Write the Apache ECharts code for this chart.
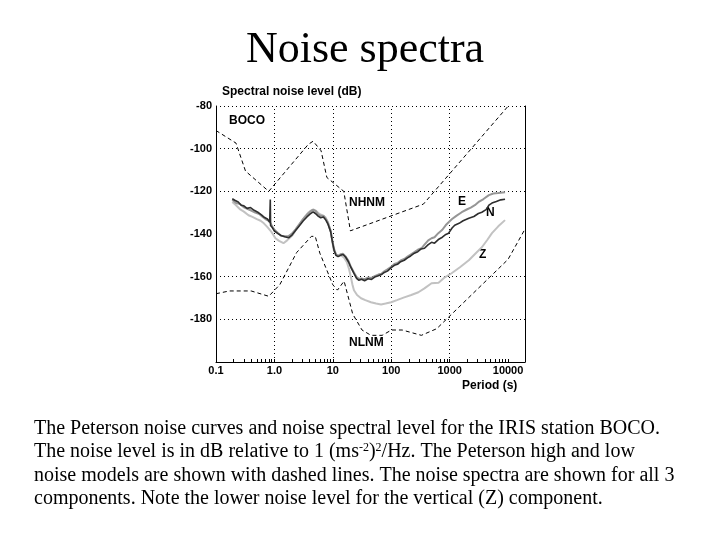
<!DOCTYPE html>
<html><head><meta charset="utf-8">
<script src="https://cdn.jsdelivr.net/npm/echarts@6/dist/echarts.min.js"></script>
<style>html,body{margin:0;padding:0;background:#fff}#c{width:720px;height:540px}</style>
</head><body><div id="c"></div>
<script>
// ---- tick labels ----
const xTickValues = [0.1, 1, 10, 100, 1000, 10000];
const xTickLabels = ['0.1', '1.0', '10', '100', '1000', '10000'];
const xMinorTicks = [0.2,0.3,0.4,0.5,0.6,0.7,0.8,0.9,2,3,4,5,6,7,8,9,20,30,40,50,60,70,80,90,200,300,400,500,600,700,800,900,2000,3000,4000,5000,6000,7000,8000,9000];
const yTickValues = [-80, -100, -120, -140, -160, -180];
const yTickLabels = ['-80', '-100', '-120', '-140', '-160', '-180'];
const xGridValues = [1, 10, 100, 1000];
const yGridValues = [-80, -100, -120, -160, -180];

// ---- Peterson models (dB) ----
const nhnmPeriod = [0.1, 0.22, 0.32, 0.8, 3.8, 4.6, 6.3, 7.9, 15.4, 20, 354.8, 10000];
const nhnmDb = [-91.5, -97.4, -110.5, -120.0, -98.0, -96.5, -101.0, -113.5, -120.0, -138.5, -126.0, -80.1];
const nlnmPeriod = [0.1, 0.17, 0.4, 0.8, 1.24, 2.4, 4.3, 5.0, 6.0, 10, 12, 15.6, 21.9, 31.6, 45, 70, 101, 154, 328, 600, 10000, 19500];
const nlnmDb = [-168.0, -166.7, -166.7, -169.2, -163.7, -148.7, -141.1, -141.1, -149.0, -163.8, -166.3, -162.1, -177.5, -185.0, -187.5, -187.5, -185.0, -185.0, -187.5, -184.4, -151.9, -137.7];

// ---- BOCO spectra ----
const nPeriod = [0.19,0.21,0.24,0.27,0.30,0.34,0.39,0.45,0.52,0.60,0.68,0.76,0.83,0.85,0.86,0.92,1.0,1.15,1.3,1.5,1.75,2.0,2.3,2.7,3.1,3.6,4.1,4.6,5.1,5.6,6.2,6.9,7.6,8.3,9.2,9.8,10.5,11.3,12.3,13.5,15.0,16.5,18.5,20.5,23,25.5,28,31,35,40,46,52,60,68,76,86,100,113,128,145,167,190,215,249,285,325,371,430,490,551,640,750,860,961,1100,1220,1450,1700,2130,2600,3100,3560,4200,4700,5300,6300,7500,8880];
const nDb = [-123.5,-124.2,-125.0,-126.5,-126.8,-128.0,-127.6,-128.9,-129.8,-131.0,-132.3,-133.0,-134.5,-123.8,-136.0,-137.0,-138.6,-139.8,-140.7,-141.3,-141.8,-140.5,-138.4,-136.0,-133.9,-132.0,-130.6,-129.6,-130.5,-131.6,-132.4,-132.0,-133.5,-135.5,-139.0,-143.5,-147.6,-150.0,-150.6,-150.0,-149.6,-150.8,-153.0,-155.8,-158.5,-160.8,-161.7,-161.2,-161.9,-161.0,-161.3,-160.2,-159.6,-159.0,-158.0,-157.4,-155.8,-154.7,-154.2,-153.0,-152.3,-151.2,-150.3,-149.0,-148.3,-147.0,-146.7,-145.0,-143.9,-144.3,-142.6,-141.5,-140.2,-139.6,-137.2,-135.9,-135.0,-133.8,-132.6,-131.8,-130.4,-129.8,-128.6,-126.5,-125.5,-124.8,-124.0,-123.7];
const ePeriod = [0.19,0.22,0.26,0.30,0.35,0.40,0.47,0.55,0.63,0.72,0.82,0.92,1.0,1.15,1.3,1.5,1.75,2.0,2.3,2.7,3.1,3.6,4.1,4.6,5.1,5.6,6.2,6.9,7.6,8.3,9.2,9.8,10.5,11.3,12.3,13.5,15.0,16.5,18.5,20.5,23,25.5,28,31,35,40,46,52,60,68,76,86,100,113,128,145,167,190,215,249,285,329,371,430,490,551,640,750,860,961,1100,1300,1610,2000,2300,2700,3200,3800,4700,5600,6800,8880];
const eDb = [-124.0,-125.5,-126.0,-127.5,-128.3,-129.0,-130.0,-130.6,-132.0,-133.2,-134.0,-136.5,-138.0,-139.5,-140.8,-141.0,-141.0,-139.8,-137.8,-135.2,-133.0,-131.0,-129.5,-128.6,-129.3,-130.8,-131.5,-131.4,-133.0,-135.0,-138.5,-143.0,-147.0,-149.5,-150.2,-149.5,-149.3,-150.5,-152.6,-155.5,-158.0,-160.2,-161.0,-160.8,-161.2,-160.4,-160.6,-159.8,-159.0,-158.6,-157.5,-156.6,-155.4,-154.0,-153.6,-152.4,-151.7,-150.6,-149.6,-148.5,-147.4,-146.7,-145.0,-143.0,-142.0,-141.5,-139.6,-138.0,-135.8,-134.5,-133.0,-131.5,-129.8,-128.4,-127.6,-126.5,-124.8,-123.6,-121.8,-121.0,-120.8,-120.4];
const zPeriod = [0.19,0.22,0.26,0.30,0.36,0.42,0.50,0.58,0.66,0.76,0.86,0.95,1.04,1.2,1.43,1.65,2.04,2.4,2.8,3.3,3.8,4.3,4.7,5.2,5.8,6.5,7.5,8.3,9.2,9.8,10.4,11.5,12.5,13.7,15.5,17.4,19,20.4,21.7,23.0,26,30.4,36,45,55,67,80,100,125,167,220,292,370,490,646,800,1080,1500,2130,2800,3560,4400,5300,6800,8880];
const zDb = [-125.0,-126.5,-128.5,-129.5,-131.2,-132.0,-133.0,-133.8,-135.0,-136.8,-138.5,-140.2,-142.0,-143.2,-144.3,-143.0,-140.6,-137.5,-134.8,-132.0,-130.0,-128.9,-128.6,-129.2,-130.5,-131.2,-132.2,-134.6,-139.0,-143.5,-147.6,-149.8,-150.3,-150.0,-151.0,-153.2,-156.5,-160.3,-163.8,-166.4,-168.6,-170.1,-171.0,-172.0,-172.6,-173.0,-172.6,-172.0,-171.0,-169.7,-168.6,-167.3,-165.5,-163.1,-162.8,-160.6,-158.4,-155.6,-152.3,-149.0,-146.2,-142.8,-139.6,-136.4,-133.5];

const zip = (a, b) => a.map((v, i) => [v, b[i]]);
const sansB = 'Liberation Sans';
const serif = 'Liberation Serif';

const chart = echarts.init(document.getElementById('c'), null, {renderer: 'canvas'});
const gridStyle = {color: '#000', width: 1, type: [1, 3]};

chart.setOption({
  animation: false,
  backgroundColor: '#fff',
  grid: {left: 216, right: 195, top: 106, bottom: 178, containLabel: false},
  xAxis: {
    type: 'log', logBase: 10, min: 0.1, max: 19500,
    axisLine: {show: true, onZero: false, lineStyle: {color: '#000', width: 1}},
    axisTick: {show: true, inside: true, length: 3, customValues: xMinorTicks.concat(xTickValues), lineStyle: {color: '#000'}},
    axisLabel: {
      customValues: xTickValues,
      formatter: v => {
        const i = xTickValues.findIndex(t => Math.abs(Math.log10(t) - Math.log10(v)) < 1e-6);
        return i >= 0 ? xTickLabels[i] : '';
      },
      color: '#000', fontFamily: sansB, fontWeight: 'bold', fontSize: 11, margin: 3
    },
    splitLine: {show: false}
  },
  yAxis: [{
    type: 'value', min: -200, max: -80, interval: 20,
    axisLine: {show: true, onZero: false, lineStyle: {color: '#000', width: 1}},
    axisTick: {show: false},
    axisLabel: {
      formatter: v => { const i = yTickValues.indexOf(v); return i >= 0 ? yTickLabels[i] : ''; },
      color: '#000', fontFamily: sansB, fontWeight: 'bold', fontSize: 11, margin: 4
    },
    splitLine: {show: false}
  }, {
    type: 'value', min: -200, max: -80, interval: 20, position: 'right',
    axisLine: {show: true, onZero: false, lineStyle: {color: '#000', width: 1}},
    axisTick: {show: false}, axisLabel: {show: false}, splitLine: {show: false}
  }],
  series: [
    {
      type: 'line', name: 'NHNM', data: zip(nhnmPeriod, nhnmDb), showSymbol: false, symbol: 'none',
      lineStyle: {color: '#000', width: 1, type: [4, 3]}, z: 3,
      markLine: {
        silent: true, symbol: 'none', z: 1, label: {show: false},
        lineStyle: gridStyle,
        data: xGridValues.map(v => ({xAxis: v})).concat(yGridValues.map(v => ({yAxis: v})))
      }
    },
    {type: 'line', name: 'NLNM', data: zip(nlnmPeriod, nlnmDb), showSymbol: false, symbol: 'none',
      lineStyle: {color: '#000', width: 1, type: [4, 3]}, z: 3},
    {type: 'line', name: 'Z', data: zip(zPeriod, zDb), showSymbol: false, symbol: 'none',
      lineStyle: {color: '#c2c2c2', width: 2}, z: 4},
    {type: 'line', name: 'E', data: zip(ePeriod, eDb), showSymbol: false, symbol: 'none',
      lineStyle: {color: '#969696', width: 2}, z: 5},
    {type: 'line', name: 'N', data: zip(nPeriod, nDb), showSymbol: false, symbol: 'none',
      lineStyle: {color: '#2e2e2e', width: 1.6}, z: 6}
  ],
  graphic: [
    {type: 'text', x: 365, y: 28, style: {text: 'Noise spectra', font: '44px ' + serif, fill: '#000', align: 'center'}},
    {type: 'text', x: 222, y: 92, style: {text: 'Spectral noise level (dB)', font: 'bold 12px ' + sansB, fill: '#000', verticalAlign: 'middle'}},
    {type: 'text', x: 462, y: 386, style: {text: 'Period (s)', font: 'bold 12px ' + sansB, fill: '#000', verticalAlign: 'middle'}},
    {type: 'text', x: 229, y: 121, style: {text: 'BOCO', font: 'bold 12px ' + sansB, fill: '#000', verticalAlign: 'middle'}},
    {type: 'text', x: 349, y: 203, style: {text: 'NHNM', font: 'bold 12px ' + sansB, fill: '#000', verticalAlign: 'middle'}},
    {type: 'text', x: 458, y: 202, style: {text: 'E', font: 'bold 12px ' + sansB, fill: '#000', verticalAlign: 'middle'}},
    {type: 'text', x: 486, y: 213, style: {text: 'N', font: 'bold 12px ' + sansB, fill: '#000', verticalAlign: 'middle'}},
    {type: 'text', x: 479, y: 255, style: {text: 'Z', font: 'bold 12px ' + sansB, fill: '#000', verticalAlign: 'middle'}},
    {type: 'text', x: 349, y: 343, style: {text: 'NLNM', font: 'bold 12px ' + sansB, fill: '#000', verticalAlign: 'middle'}},
    {type: 'text', x: 34, y: 429, style: {text: 'The Peterson noise curves and noise spectral level for the IRIS station BOCO.', font: '20px ' + serif, fill: '#000', verticalAlign: 'middle'}},
    {type: 'text', x: 34, y: 452, style: {
      text: 'The noise level is in dB relative to 1 (ms{sup|-2}){sup|2}/Hz. The Peterson high and low',
      font: '20px ' + serif, fill: '#000', verticalAlign: 'middle',
      rich: {sup: {fontSize: 12, fontFamily: serif, verticalAlign: 'top', padding: [0, 0, 8, 0], fill: '#000'}}
    }},
    {type: 'text', x: 34, y: 476, style: {text: 'noise models are shown with dashed lines. The noise spectra are shown for all 3', font: '20px ' + serif, fill: '#000', verticalAlign: 'middle'}},
    {type: 'text', x: 34, y: 499, style: {text: 'components. Note the lower noise level for the vertical (Z) component.', font: '20px ' + serif, fill: '#000', verticalAlign: 'middle'}}
  ]
});
</script></body></html>
